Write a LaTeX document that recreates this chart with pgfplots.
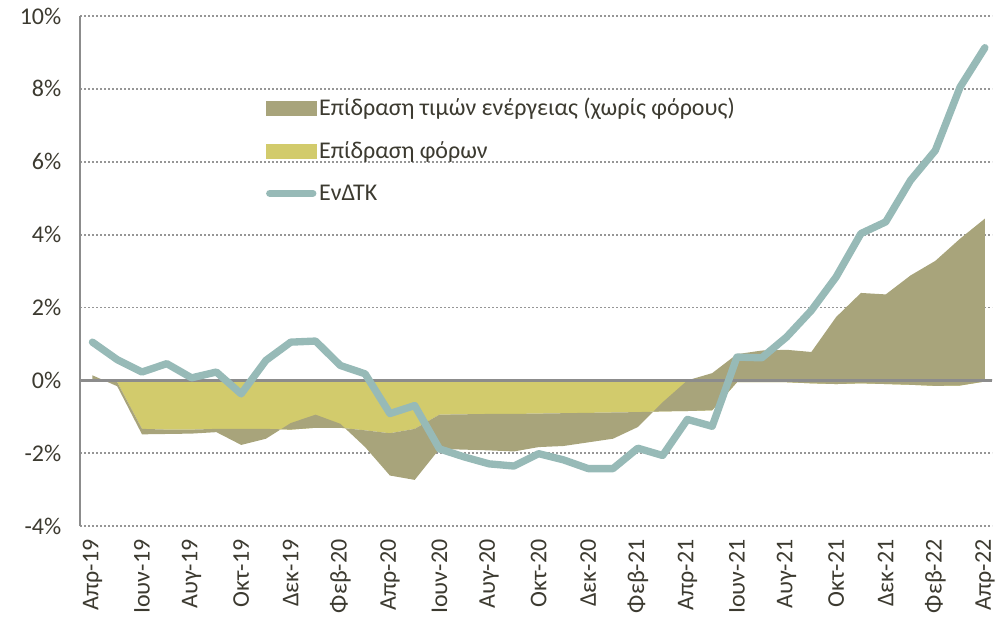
\documentclass[border=0pt]{standalone}
\usepackage{fontspec}
\setmainfont{Carlito}
\usepackage{pgfplots}
\usepackage{pgfplotstable}
\pgfplotsset{compat=1.18}
\definecolor{energy}{RGB}{168,164,123}
\definecolor{tax}{RGB}{210,203,108}
\definecolor{cpi}{RGB}{151,186,183}
\definecolor{axgray}{RGB}{140,140,140}
\definecolor{gridgray}{RGB}{150,150,150}
\definecolor{txt}{RGB}{60,58,48}

\pgfplotstableread{
x tax energy cpi
0 0.00 0.14 1.05
1 -0.05 -0.11 0.57
2 -1.33 -0.15 0.23
3 -1.35 -0.12 0.46
4 -1.35 -0.11 0.07
5 -1.33 -0.09 0.23
6 -1.33 -0.44 -0.37
7 -1.33 -0.27 0.55
8 -1.35 0.18 1.05
9 -1.30 0.36 1.08
10 -1.30 0.11 0.41
11 -1.37 -0.46 0.18
12 -1.45 -1.16 -0.91
13 -1.33 -1.40 -0.69
14 -0.94 -0.94 -1.88
15 -0.93 -0.97 -2.10
16 -0.92 -1.00 -2.29
17 -0.92 -1.03 -2.35
18 -0.91 -0.92 -2.01
19 -0.90 -0.90 -2.18
20 -0.89 -0.81 -2.42
21 -0.88 -0.72 -2.42
22 -0.87 -0.41 -1.86
23 -0.85 0.25 -2.06
24 -0.84 0.84 -1.07
25 -0.82 1.02 -1.26
26 -0.05 0.77 0.64
27 -0.05 0.87 0.62
28 -0.05 0.89 1.19
29 -0.08 0.86 1.92
30 -0.10 1.84 2.84
31 -0.08 2.48 4.03
32 -0.10 2.46 4.35
33 -0.12 3.00 5.49
34 -0.15 3.43 6.31
35 -0.14 4.03 8.05
36 -0.03 4.47 9.13
}\datatable

\begin{document}
\begin{tikzpicture}
\begin{axis}[
  scale only axis,
  width=684pt, height=382.5pt,
  xmin=-0.5, xmax=36.3,
  ymin=-4, ymax=10,
  font=\fontsize{18}{21}\selectfont,
  every tick label/.append style={text=txt},
  ytick={-4,-2,0,2,4,6,8,10},
  yticklabels={-4\%,-2\%,0\%,2\%,4\%,6\%,8\%,10\%},
  xtick={0,2,...,36},
  xticklabels={Απρ-19,Ιουν-19,Αυγ-19,Οκτ-19,Δεκ-19,Φεβ-20,Απρ-20,Ιουν-20,Αυγ-20,Οκτ-20,Δεκ-20,Φεβ-21,Απρ-21,Ιουν-21,Αυγ-21,Οκτ-21,Δεκ-21,Φεβ-22,Απρ-22},
  xticklabel style={rotate=90, anchor=east},
  xticklabel shift=6.5pt,
  yticklabel shift=10.5pt,
  axis x line*=bottom,
  axis y line*=left,
  x axis line style={draw=none},
  y axis line style={draw=axgray, line width=1.5pt},
  major tick length=0pt,
  tick style={draw=none},
  ymajorgrids,
  grid style={draw=gridgray, line width=1.4pt, dash pattern=on 1.4pt off 1.6pt},
  legend style={draw=none, fill=none, at={(rel axis cs:0.199,0.85)}, anchor=north west,
    row sep=14pt, font=\fontsize{18}{21}\selectfont, text=txt,
    /tikz/every even column/.append style={column sep=1pt}},
  legend cell align=left,
  clip=false,
]
\addlegendimage{legend image code/.code={\fill[energy] (0pt,-5.25pt) rectangle (37.5pt,5.25pt);}}
\addlegendentry{Επίδραση τιμών ενέργειας (χωρίς φόρους)}
\addlegendimage{legend image code/.code={\fill[tax] (0pt,-5.25pt) rectangle (37.5pt,5.25pt);}}
\addlegendentry{Επίδραση φόρων}
\addlegendimage{legend image code/.code={\draw[cpi, line width=5.5pt, line cap=round] (2.75pt,0pt) -- (35pt,0pt);}}
\addlegendentry{ΕνΔΤΚ}

\addplot[fill=tax, draw=none, mark=none, stack plots=y, forget plot] table[x=x, y=tax] {\datatable} \closedcycle;
\addplot[fill=energy, draw=none, mark=none, stack plots=y, forget plot] table[x=x, y=energy] {\datatable} \closedcycle;
\draw[axgray, line width=2.2pt] (axis cs:-0.5,0) -- (axis cs:36.3,0);
\addplot[cpi, line width=5.5pt, line join=round, line cap=round, mark=none, stack plots=false, forget plot] table[x=x, y=cpi] {\datatable};
\coordinate (SW) at (rel axis cs:0,0);
\coordinate (NE) at (rel axis cs:1,1);
\end{axis}
\path (SW) ++(-60pt,-68.25pt) coordinate (A);
\path (NE) ++(2pt,12pt) coordinate (B);
\pgfresetboundingbox
\path[use as bounding box] (A) rectangle (B);
\end{tikzpicture}
\end{document}
